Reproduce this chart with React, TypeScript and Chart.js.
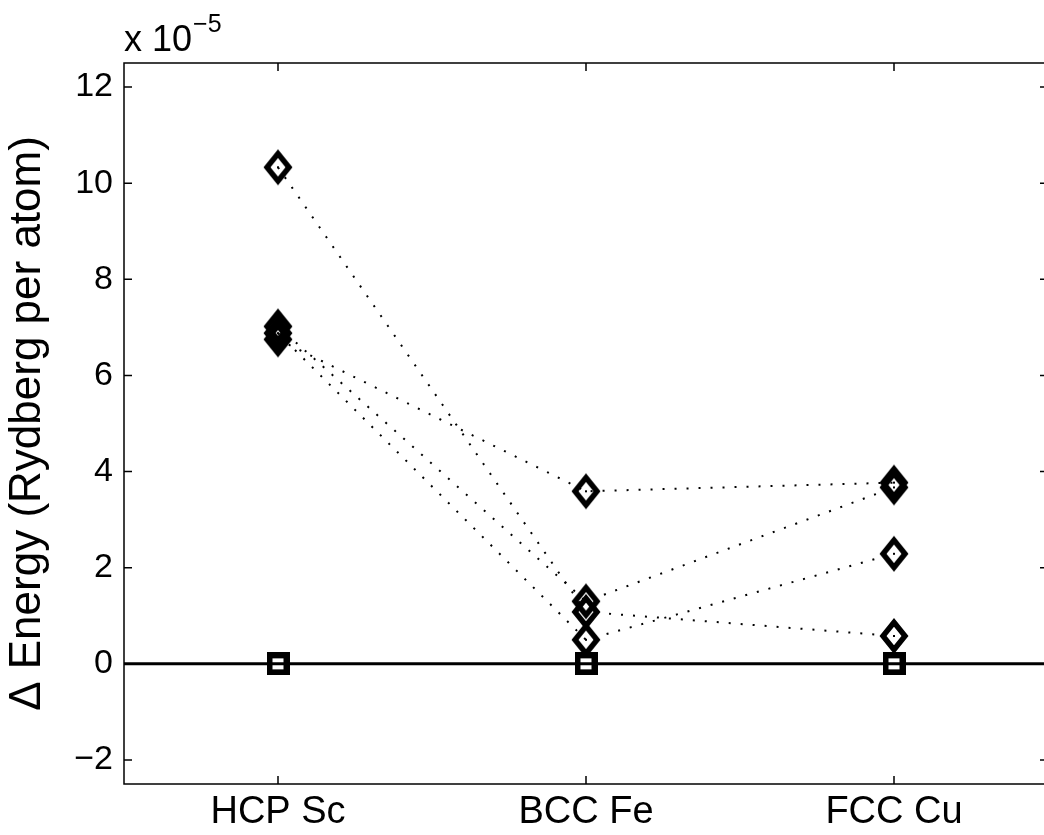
import React, { useEffect, useRef } from 'react';
import { Chart, registerables } from 'chart.js';

Chart.register(...registerables);

// ---- Data (units of 1e-5 Rydberg per atom) ----
const categories = ['HCP Sc', 'BCC Fe', 'FCC Cu'];
const xPositions = [1, 2, 3];
const series1 = [10.33, 1.08, 0.58];
const series2 = [7.02, 1.30, 3.67];
const series3 = [6.88, 0.50, 2.29];
const series4 = [6.75, 3.59, 3.77];
const referenceSeries = [0, 0, 0];
const yTickValues = [-2, 0, 2, 4, 6, 8, 10, 12];
const yTitle = 'Δ Energy (Rydberg per atom)';
const exponentBase = 'x 10';
const exponentPower = '−5';

const FONT = '"Liberation Sans", Arial, Helvetica, sans-serif';

function makeDiamond(): HTMLCanvasElement {
  const c = document.createElement('canvas');
  c.width = 30;
  c.height = 38;
  const g = c.getContext('2d')!;
  const cx = 15, cy = 19, ow = 14.5, oh = 18, iw = 7.5, ih = 9.3;
  g.beginPath();
  g.moveTo(cx, cy - oh); g.lineTo(cx + ow, cy); g.lineTo(cx, cy + oh); g.lineTo(cx - ow, cy); g.closePath();
  g.moveTo(cx, cy - ih); g.lineTo(cx - iw, cy); g.lineTo(cx, cy + ih); g.lineTo(cx + iw, cy); g.closePath();
  g.fillStyle = '#000';
  g.fill('evenodd');
  g.fillRect(cx - 1, cy - 1, 2, 2);
  return c;
}

function makeSquare(): HTMLCanvasElement {
  const c = document.createElement('canvas');
  c.width = 23;
  c.height = 23;
  const g = c.getContext('2d')!;
  g.beginPath();
  g.rect(0, 0, 23, 23);
  g.rect(6, 6, 11, 11);
  g.fillStyle = '#000';
  g.fill('evenodd');
  return c;
}

const toPoints = (vals: number[]) => vals.map((v, i) => ({ x: xPositions[i], y: v }));

const framePlugin = {
  id: 'matlabFrame',
  afterDraw(chart: any) {
    const { ctx, chartArea, scales } = chart;
    const { left, right, top, bottom } = chartArea;
    ctx.save();
    ctx.strokeStyle = '#000';
    ctx.lineWidth = 1.5;
    ctx.strokeRect(left, top, right - left, bottom - top);
    const tl = 8;
    ctx.beginPath();
    yTickValues.forEach((v) => {
      const py = scales.y.getPixelForValue(v);
      ctx.moveTo(left, py); ctx.lineTo(left + tl, py);
      ctx.moveTo(right, py); ctx.lineTo(right - tl, py);
    });
    xPositions.forEach((v) => {
      const px = scales.x.getPixelForValue(v);
      ctx.moveTo(px, bottom); ctx.lineTo(px, bottom - tl);
      ctx.moveTo(px, top); ctx.lineTo(px, top + tl);
    });
    ctx.stroke();
    // exponent label
    ctx.fillStyle = '#000';
    ctx.textBaseline = 'alphabetic';
    ctx.textAlign = 'left';
    ctx.font = `36px ${FONT}`;
    ctx.fillText(exponentBase, left, 51);
    const w = ctx.measureText(exponentBase).width;
    ctx.font = `25px ${FONT}`;
    ctx.fillText(exponentPower, left + w + 1, 32);
    ctx.restore();
  },
};

export default function App() {
  const ref = useRef<HTMLCanvasElement>(null);
  useEffect(() => {
    if (!ref.current) return;
    const diamond = makeDiamond();
    const square = makeSquare();
    const dotted = (vals: number[]) => ({
      data: toPoints(vals),
      showLine: true,
      borderColor: '#000',
      borderWidth: 2,
      borderDash: [2, 10],
      pointStyle: diamond,
      pointRadius: 4,
      pointHoverRadius: 4,
    });
    const chart = new Chart(ref.current, {
      type: 'scatter',
      data: {
        datasets: [
          dotted(series1),
          dotted(series2),
          dotted(series3),
          dotted(series4),
          {
            data: toPoints(referenceSeries),
            showLine: false,
            pointStyle: square,
            pointRadius: 4,
          } as any,
          {
            data: [{ x: 0.5, y: 0 }, { x: 3.5, y: 0 }],
            showLine: true,
            borderColor: '#000',
            borderWidth: 3,
            pointRadius: 0,
          },
        ],
      },
      options: {
        animation: false,
        responsive: false,
        maintainAspectRatio: false,
        layout: { padding: { left: 0, right: 12, top: 63, bottom: 0 } },
        plugins: { legend: { display: false }, tooltip: { enabled: false } },
        scales: {
          x: {
            type: 'linear',
            min: 0.5,
            max: 3.5,
            grid: { display: false, drawTicks: false },
            border: { display: false },
            afterBuildTicks: (scale: any) => {
              scale.ticks = xPositions.map((v) => ({ value: v }));
            },
            afterFit: (scale: any) => {
              scale.height = 51;
            },
            ticks: {
              color: '#000',
              padding: 6,
              maxRotation: 0,
              autoSkip: false,
              font: { family: FONT, size: 38 },
              callback: (v: any) => categories[Number(v) - 1] ?? '',
            },
          },
          y: {
            min: -2.5,
            max: 12.5,
            grid: { display: false, drawTicks: false },
            border: { display: false },
            afterBuildTicks: (scale: any) => {
              scale.ticks = yTickValues.map((v) => ({ value: v }));
            },
            afterFit: (scale: any) => {
              scale.width = 124;
            },
            ticks: {
              color: '#000',
              padding: 11,
              font: { family: FONT, size: 34 },
              callback: (v: any) => String(v).replace('-', '−'),
            },
            title: {
              display: true,
              text: yTitle,
              color: '#000',
              font: { family: FONT, size: 44 },
              padding: { top: 1, bottom: 0 },
            },
          },
        },
      },
      plugins: [framePlugin],
    });
    return () => chart.destroy();
  }, []);
  return (
    <div style={{ position: 'fixed', left: 0, top: 0, width: 1044, height: 835, overflow: 'hidden', background: '#fff' }}>
      <canvas ref={ref} width={1060} height={835} style={{ display: 'block', width: 1060, height: 835 }} />
    </div>
  );
}
